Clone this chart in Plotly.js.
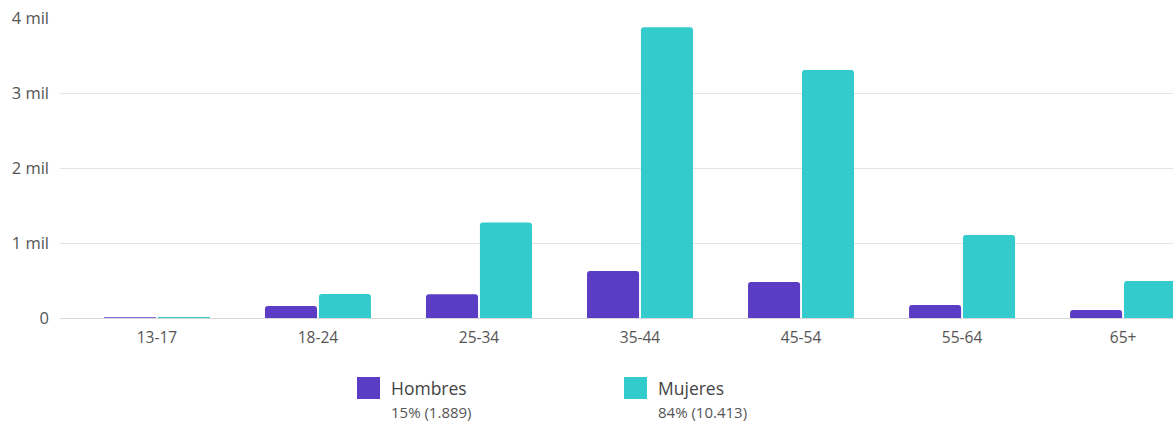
<!DOCTYPE html>
<html>
<head>
<meta charset="utf-8">
<script src="https://cdn.plot.ly/plotly-3.0.1.min.js"></script>
<style>
html,body{margin:0;padding:0;background:#fff;}
#chart{width:1173px;height:424px;}
</style>
</head>
<body>
<div id="chart"></div>
<script>
const categories = ["13-17","18-24","25-34","35-44","45-54","55-64","65+"];
const hombres = [10, 160, 316, 627, 480, 175, 107];
const mujeres = [12, 320, 1275, 3878, 3307, 1107, 493];
const seriesNames = ["Hombres", "Mujeres"];
const seriesSubtitles = ["15% (1.889)", "84% (10.413)"];
const seriesColors = ["#5b3cc4", "#33cbcb"];
const yTickVals = [0, 1000, 2000, 3000, 4000];
const yTickText = ["0", "1 mil", "2 mil", "3 mil", "4 mil"];

const W = 1173, H = 424;
const m = {l: 60, r: 0, t: 18, b: 106};
const pw = W - m.l - m.r, ph = H - m.t - m.b;
const px = x => (x - m.l) / pw;
const py = y => (H - m.b - y) / ph;

const font = "'Open Sans', 'Noto Sans', sans-serif";

const traces = [hombres, mujeres].map((vals, i) => ({
  type: "bar",
  x: categories,
  y: vals,
  name: seriesNames[i],
  marker: {color: seriesColors[i], cornerradius: 3},
  hoverinfo: "x+y+name"
}));

// custom legend
const legendX = [357, 624];
const shapes = [];
const annotations = [];
legendX.forEach((lx, i) => {
  shapes.push({type: "rect", xref: "paper", yref: "paper",
    x0: px(lx), x1: px(lx + 23), y0: py(399), y1: py(377),
    fillcolor: seriesColors[i], line: {width: 0}, layer: "above"});
  annotations.push({xref: "paper", yref: "paper", x: px(lx + 32), y: py(388),
    xanchor: "left", yanchor: "middle", showarrow: false,
    text: seriesNames[i], font: {family: font, size: 17.5, color: "#444"}});
  annotations.push({xref: "paper", yref: "paper", x: px(lx + 32), y: py(412),
    xanchor: "left", yanchor: "middle", showarrow: false,
    text: seriesSubtitles[i], font: {family: font, size: 15, color: "#555"}});
});

const layout = {
  width: W, height: H,
  margin: m,
  paper_bgcolor: "#fff", plot_bgcolor: "#fff",
  font: {family: font, color: "#555"},
  showlegend: false,
  barmode: "group",
  bargap: 0.33,
  bargroupgap: 0.035,
  xaxis: {
    type: "category",
    range: [-0.602, 6.31],
    showgrid: false, zeroline: false, showline: false,
    ticks: "", tickfont: {family: font, size: 15.5, color: "#555"},
    ticklabelstandoff: 8
  },
  yaxis: {
    range: [0, 4000],
    tickvals: yTickVals, ticktext: yTickText,
    showgrid: true, gridcolor: "#e4e4e4", gridwidth: 1,
    zeroline: true, zerolinecolor: "#d8d8d8", zerolinewidth: 1,
    showline: false, ticks: "",
    tickfont: {family: font, size: 16.5, color: "#555"},
    ticklabelstandoff: 10
  },
  shapes: shapes,
  annotations: annotations
};

Plotly.newPlot("chart", traces, layout, {displayModeBar: false, staticPlot: true});
</script>
</body>
</html>
